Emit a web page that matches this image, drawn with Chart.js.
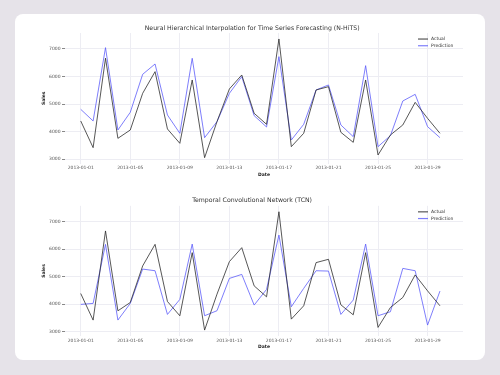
<!DOCTYPE html>
<html>
<head>
<meta charset="utf-8">
<script src="https://cdn.jsdelivr.net/npm/chart.js@4/dist/chart.umd.min.js"></script>
<style>
  html, body { margin: 0; padding: 0; width: 500px; height: 375px; background: #e6e3e9; overflow: hidden; }
  #card { position: absolute; left: 15px; top: 14px; width: 470px; height: 346px; background: #ffffff; border-radius: 8px; }
  .wrap { position: absolute; left: 0; width: 500px; }
  #w1 { top: 0; height: 185px; }
  #w2 { top: 185px; height: 175px; }
</style>
</head>
<body>
<div id="card"></div>
<div class="wrap" id="w1"><canvas id="c1" width="500" height="185"></canvas></div>
<div class="wrap" id="w2"><canvas id="c2" width="500" height="175"></canvas></div>
<script>
// ---- data ----
const dates = ["2013-01-01","2013-01-02","2013-01-03","2013-01-04","2013-01-05","2013-01-06","2013-01-07","2013-01-08","2013-01-09","2013-01-10",
               "2013-01-11","2013-01-12","2013-01-13","2013-01-14","2013-01-15","2013-01-16","2013-01-17","2013-01-18","2013-01-19","2013-01-20",
               "2013-01-21","2013-01-22","2013-01-23","2013-01-24","2013-01-25","2013-01-26","2013-01-27","2013-01-28","2013-01-29","2013-01-30"];
const actual = [4390, 3423, 6665, 3761, 4063, 5393, 6178, 4100, 3580, 5876,
                3060, 4366, 5550, 6057, 4668, 4269, 7363, 3459, 3943, 5514,
                5634, 3979, 3616, 5876, 3157, 3882, 4245, 5066, 4486, 3943];
const predNHITS = [4813, 4390, 7048, 4063, 4704, 6082, 6456, 4607, 3943, 6662,
                   3785, 4366, 5393, 5997, 4583, 4172, 6722, 3700, 4269, 5514,
                   5695, 4245, 3822, 6396, 3459, 3858, 5115, 5356, 4184, 3785];
const predTCN = [3994, 4030, 6176, 3424, 4030, 5279, 5218, 3630, 4176, 6188,
                 3582, 3764, 4939, 5085, 3970, 4539, 6515, 3909, 4576, 5218,
                 5206, 3630, 4152, 6188, 3582, 3727, 5303, 5218, 3242, 4479];
const xTickIdx = [0, 4, 8, 12, 16, 20, 24, 28];
const yTicks = [3000, 4000, 5000, 6000, 7000];
const titles = ["Neural Hierarchical Interpolation for Time Series Forecasting (N-HiTS)", "Temporal Convolutional Network (TCN)"];
const seriesNames = ["Actual", "Prediction"];

const FONT = "'DejaVu Sans', sans-serif";
const actualColor = "rgba(40,40,40,0.78)";
const predColor = "rgba(90,90,250,0.78)";

const legendPlugin = {
  id: 'innerLegend',
  afterDraw(chart) {
    const ctx = chart.ctx, a = chart.chartArea;
    ctx.save();
    ctx.font = "4.5px " + FONT;
    ctx.textBaseline = 'middle';
    ctx.textAlign = 'left';
    const rows = [a.top + 6, a.top + 12.7];
    chart.data.datasets.forEach((ds, i) => {
      const y = rows[i];
      ctx.strokeStyle = ds.borderColor;
      ctx.lineWidth = 1.2;
      ctx.beginPath();
      ctx.moveTo(a.right - 45, y);
      ctx.lineTo(a.right - 35, y);
      ctx.stroke();
      ctx.fillStyle = '#333';
      ctx.fillText(ds.label, a.right - 32, y);
    });
    ctx.restore();
  }
};

function makeChart(id, title, pred, titlePad, padBottom, xHeight, tickPad) {
  return new Chart(document.getElementById(id), {
    type: 'line',
    data: {
      datasets: [
        { label: seriesNames[0], data: actual.map((v, i) => ({x: i, y: v})), borderColor: actualColor, borderWidth: 1, pointRadius: 0, tension: 0 },
        { label: seriesNames[1], data: pred.map((v, i) => ({x: i, y: v})), borderColor: predColor, borderWidth: 1, pointRadius: 0, tension: 0 }
      ]
    },
    options: {
      responsive: false,
      animation: false,
      devicePixelRatio: 1,
      layout: { padding: { left: 41.3, right: 37, top: 0, bottom: padBottom } },
      plugins: {
        legend: { display: false },
        tooltip: { enabled: false },
        title: { display: true, text: title, color: '#333', font: { family: FONT, size: 6.2, weight: 'normal', lineHeight: 1.2 }, padding: titlePad }
      },
      scales: {
        x: {
          type: 'linear', min: -1.27, max: 30.86,
          afterBuildTicks: (s) => { s.ticks = xTickIdx.map(v => ({ value: v })); },
          afterFit: (s) => { s.height = xHeight; },
          grid: { color: '#ededf3', lineWidth: 1, drawTicks: false },
          border: { display: false },
          ticks: { autoSkip: false, maxRotation: 0, padding: tickPad, color: '#555', font: { family: FONT, size: 4.5, lineHeight: 1.2 }, callback: (v) => dates[v] },
          title: { display: true, text: 'Date', color: '#222', padding: 0, font: { family: FONT, size: 4.5, weight: 'bold', lineHeight: 1.2 } }
        },
        y: {
          min: 2845, max: 7578,
          afterBuildTicks: (s) => { s.ticks = yTicks.map(v => ({ value: v })); },
          afterFit: (s) => { s.width = 23.7; },
          grid: { color: '#ededf3', lineWidth: 1, drawTicks: true, tickLength: 3, tickColor: '#888' },
          border: { display: false },
          ticks: { padding: 1.5, color: '#555', font: { family: FONT, size: 4.5, lineHeight: 1.2 }, callback: (v) => String(v) },
          title: { display: true, text: 'Sales', color: '#222', padding: 0, font: { family: FONT, size: 4.5, weight: 'bold', lineHeight: 1.2 } }
        }
      }
    },
    plugins: [legendPlugin]
  });
}

makeChart('c1', titles[0], predNHITS, { top: 24.6, bottom: 1.0 }, 7.8, 13.6, 1.7);
makeChart('c2', titles[1], predTCN, { top: 12.0, bottom: 1.4 }, 10.4, 13.6, 1.8);
</script>
</body>
</html>
